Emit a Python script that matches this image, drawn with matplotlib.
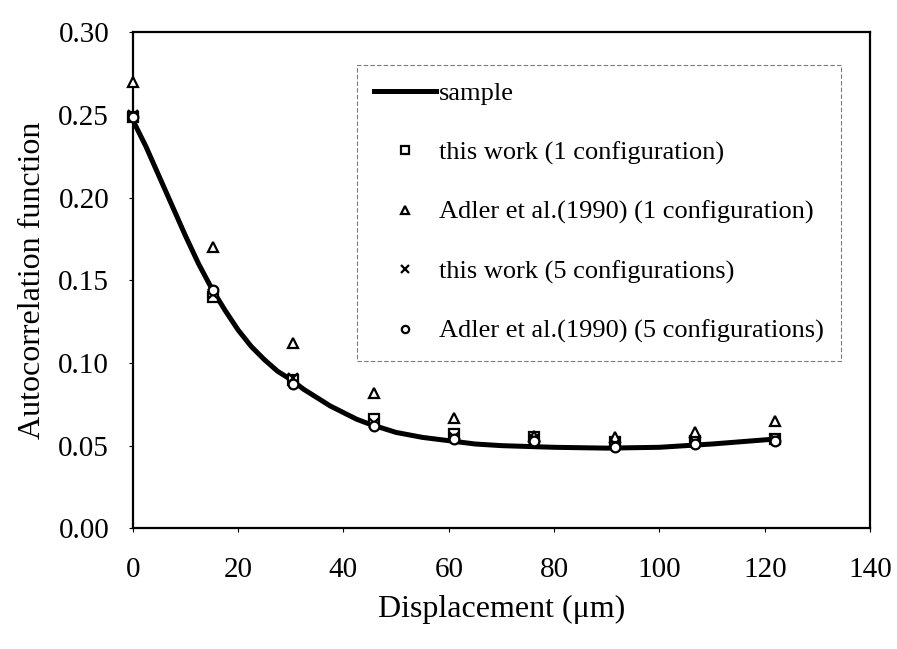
import matplotlib
matplotlib.use('Agg')
import matplotlib.pyplot as plt

# displacement (um) of the measured points
disp = [0, 15.25, 30.5, 45.75, 61, 76.25, 91.5, 106.75, 122]

this_work_1 = [0.249, 0.140, 0.090, 0.066, 0.057, 0.055, 0.052, 0.053, 0.054]
adler_1 = [0.270, 0.170, 0.112, 0.082, 0.067, 0.056, 0.055, 0.058, 0.065]
this_work_5 = [0.250, 0.142, 0.091, 0.064, 0.055, 0.054, 0.051, 0.052, 0.054]
adler_5 = [0.249, 0.144, 0.087, 0.062, 0.054, 0.053, 0.049, 0.051, 0.053]

# sample curve
sample_x = [0, 2.5, 5, 7.5, 10, 12.5, 15, 17.5, 20, 22.5, 25, 27.5, 30, 32.5, 35,
            37.5, 40, 42.5, 45, 50, 55, 60, 65, 70, 80, 90, 100, 110, 122]
sample_y = [0.247, 0.231, 0.213, 0.195, 0.177, 0.160, 0.145, 0.132, 0.120, 0.110,
            0.102, 0.095, 0.090, 0.084, 0.079, 0.074, 0.070, 0.066, 0.063, 0.058,
            0.055, 0.053, 0.051, 0.050, 0.049, 0.0485, 0.049, 0.051, 0.054]

plt.rcParams['font.family'] = ['Liberation Serif', 'DejaVu Serif']

fig = plt.figure(figsize=(8.97, 6.49), dpi=100)
ax = fig.add_axes([0.148, 0.186, 0.822, 0.764])

ax.plot(sample_x, sample_y, color='black', lw=3.6, label='sample', zorder=3)
mk = dict(ls='none', color='black', mfc='white', ms=7, mew=1.6, clip_on=False, zorder=4)
ax.plot(disp, this_work_1, marker='s', label='this work (1 configuration)', **mk)
ax.plot(disp, adler_1, marker='^', label='Adler et al.(1990) (1 configuration)', **mk)
ax.plot(disp, this_work_5, marker='x', label='this work (5 configurations)', **mk)
ax.plot(disp, adler_5, marker='o', label='Adler et al.(1990) (5 configurations)', **mk)

ax.set_xlim(0, 140)
ax.set_ylim(0, 0.30)
ax.set_xticks(range(0, 141, 20))
ax.set_yticks([0, 0.05, 0.10, 0.15, 0.20, 0.25, 0.30])
ax.set_yticklabels(['0.00', '0.05', '0.10', '0.15', '0.20', '0.25', '0.30'])
ax.tick_params(labelsize=21, length=3, width=0.8)
ax.tick_params(axis='x', pad=18)
ax.tick_params(axis='y', pad=14)
for s in ax.spines.values():
    s.set_linewidth(1.6)

ax.set_xlabel('Displacement (μm)', fontsize=23, labelpad=8)
ax.set_ylabel('Autocorrelation function', fontsize=23, labelpad=8)

leg = ax.legend(loc='upper left', bbox_to_anchor=(0.304, 0.935), fontsize=19,
                fancybox=False, frameon=True, handlelength=2.35, handletextpad=0.1,
                labelspacing=1.35, borderpad=0.65, borderaxespad=0, markerscale=0.75)
leg.get_frame().set_edgecolor('0.35')
leg.get_frame().set_linestyle((0, (4, 2)))
leg.get_frame().set_linewidth(0.8)

fig.savefig('out.png', dpi=100)
